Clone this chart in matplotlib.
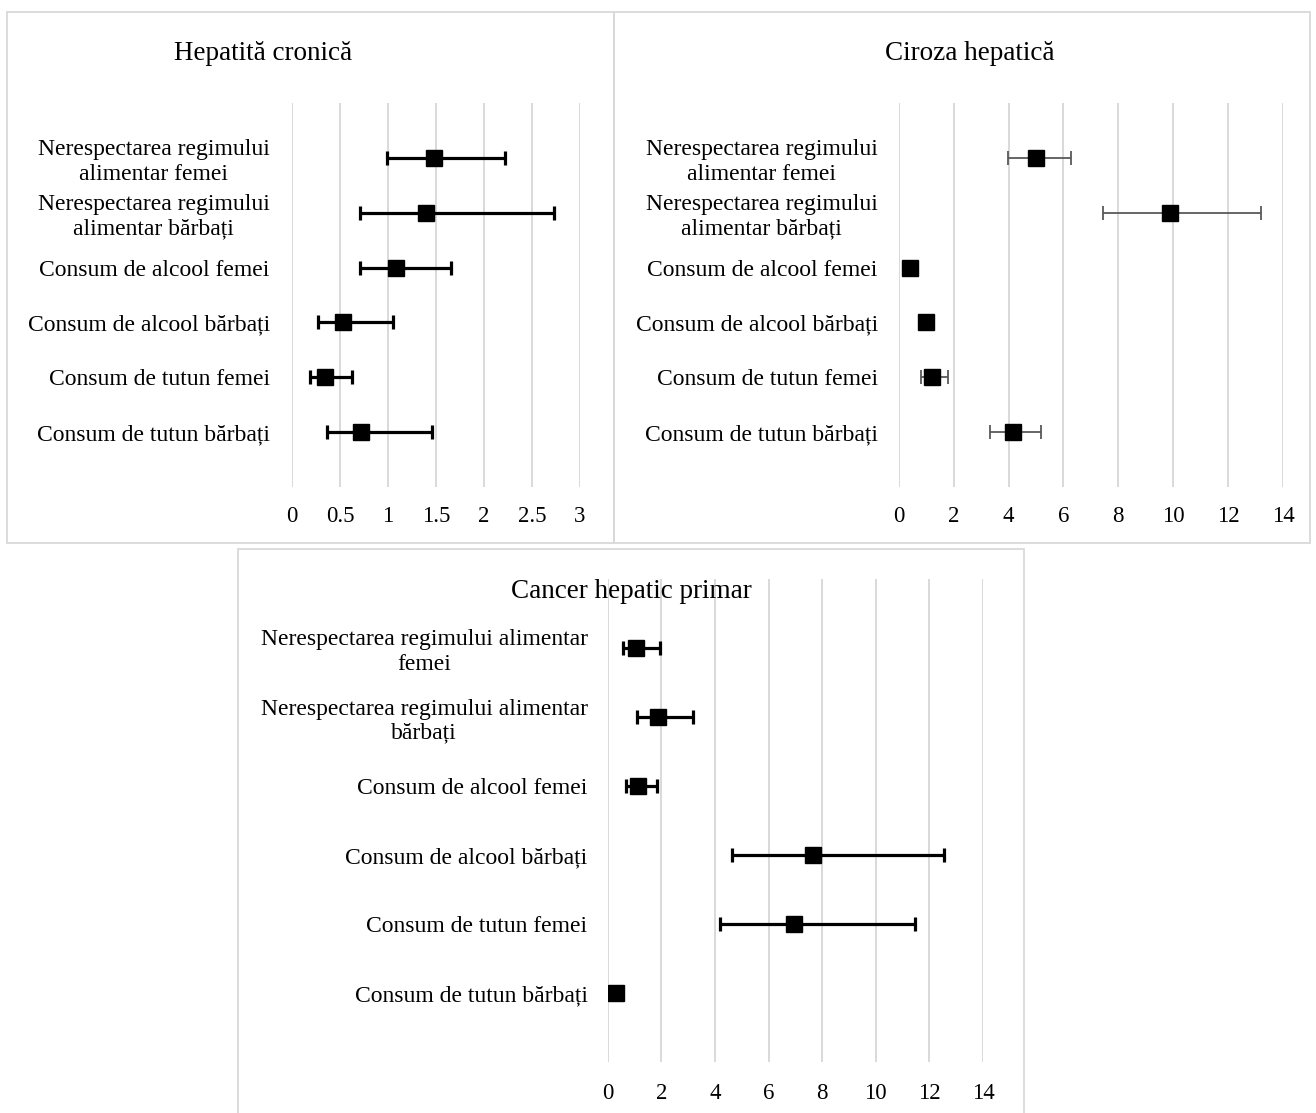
import numpy as np
import matplotlib
matplotlib.use("Agg")
import matplotlib.pyplot as plt
from matplotlib.patches import Rectangle

plt.rcParams["font.family"] = ["Liberation Serif", "DejaVu Serif"]

W, H = 1316, 1113

# Risk factors, top to bottom
labels_top = [
    "Nerespectarea regimului\nalimentar femei",
    "Nerespectarea regimului\nalimentar bărbați",
    "Consum de alcool femei",
    "Consum de alcool bărbați",
    "Consum de tutun femei",
    "Consum de tutun bărbați",
]
labels_cancer = [
    "Nerespectarea regimului alimentar\nfemei",
    "Nerespectarea regimului alimentar\nbărbați",
    "Consum de alcool femei",
    "Consum de alcool bărbați",
    "Consum de tutun femei",
    "Consum de tutun bărbați",
]

# Hepatită cronică: estimate and confidence interval
hep_est = [1.48, 1.40, 1.08, 0.53, 0.34, 0.72]
hep_low = [0.99, 0.71, 0.71, 0.27, 0.19, 0.36]
hep_high = [2.22, 2.73, 1.66, 1.05, 0.62, 1.46]

# Ciroza hepatică (None = no interval)
cir_est = [5.00, 9.89, 0.40, 0.98, 1.21, 4.16]
cir_low = [3.99, 7.43, None, None, 0.83, 3.34]
cir_high = [6.27, 13.20, None, None, 1.80, 5.18]

# Cancer hepatic primar
can_est = [1.07, 1.86, 1.12, 7.65, 6.94, 0.32]
can_low = [0.56, 1.09, 0.68, 4.65, 4.19, None]
can_high = [1.95, 3.18, 1.84, 12.53, 11.45, None]

hep_ticks = [0, 0.5, 1, 1.5, 2, 2.5, 3]
hep_ticklabels = ["0", "0.5", "1", "1.5", "2", "2.5", "3"]
big_ticks = [0, 2, 4, 6, 8, 10, 12, 14]
big_ticklabels = [str(t) for t in big_ticks]

fig = plt.figure(figsize=(W / 100, H / 100), dpi=100)
fig.patch.set_facecolor("white")


def rect_px(x0, y0, x1, y1):
    return [x0 / W, 1 - y1 / H, (x1 - x0) / W, (y1 - y0) / H]


# Panel frames
for (x0, y0, x1, y1) in [(7, 12, 614, 543), (614, 12, 1310, 543), (238, 549, 1024, 1125)]:
    fig.add_artist(Rectangle((x0 / W, 1 - y1 / H), (x1 - x0) / W, (y1 - y0) / H,
                             transform=fig.transFigure, fill=False,
                             edgecolor="#d9d9d9", linewidth=1.3, zorder=0))


def panel(box, est, low, high, labels, ticks, ticklabels, xmax, err_color, err_lw,
          xpad, ypad, cap):
    ax = fig.add_axes(rect_px(*box))
    n = len(est)
    ys = np.arange(n, 0, -1)
    ax.set_xlim(0, xmax)
    ax.set_ylim(0, n + 1)
    for s in ax.spines.values():
        s.set_visible(False)
    ax.set_xticks(ticks)
    ax.set_xticklabels(ticklabels, fontsize=16.5)
    ax.set_yticks(ys)
    ax.set_yticklabels(labels, fontsize=17)
    for t in ax.get_yticklabels():
        t.set_multialignment("center")
    ax.tick_params(axis="both", length=0)
    ax.tick_params(axis="x", pad=xpad)
    ax.tick_params(axis="y", pad=ypad)
    ax.xaxis.grid(True, color="#d9d9d9", linewidth=1.4)
    ax.set_axisbelow(True)
    for y, e, lo, hi in zip(ys, est, low, high):
        if lo is not None:
            ax.errorbar([e], [y], xerr=[[e - lo], [hi - e]], fmt="none",
                        ecolor=err_color, elinewidth=err_lw, capsize=cap,
                        capthick=err_lw, zorder=2)
    ax.plot(est, ys, linestyle="none", marker="s", markersize=11,
            color="black", zorder=3)
    return ax


panel((292, 103, 580, 487), hep_est, hep_low, hep_high, labels_top,
      hep_ticks, hep_ticklabels, 3, "black", 2.3, 14, 16, 4.8)
panel((898.7, 103, 1283, 487), cir_est, cir_low, cir_high, labels_top,
      big_ticks, big_ticklabels, 14, "#595959", 1.3, 14, 15, 5.0)
panel((607.7, 579, 983, 1062), can_est, can_low, can_high, labels_cancer,
      big_ticks, big_ticklabels, 14, "black", 2.3, 15, 14.5, 4.8)

fig.text(263 / W, 1 - 53 / H, "Hepatită cronică", fontsize=19.5,
         ha="center", va="center")
fig.text(970 / W, 1 - 53 / H, "Ciroza hepatică", fontsize=19.5,
         ha="center", va="center")
fig.text(631 / W, 1 - 591 / H, "Cancer hepatic primar", fontsize=19.5,
         ha="center", va="center", zorder=5)

fig.savefig("out.png", dpi=100, facecolor="white")
